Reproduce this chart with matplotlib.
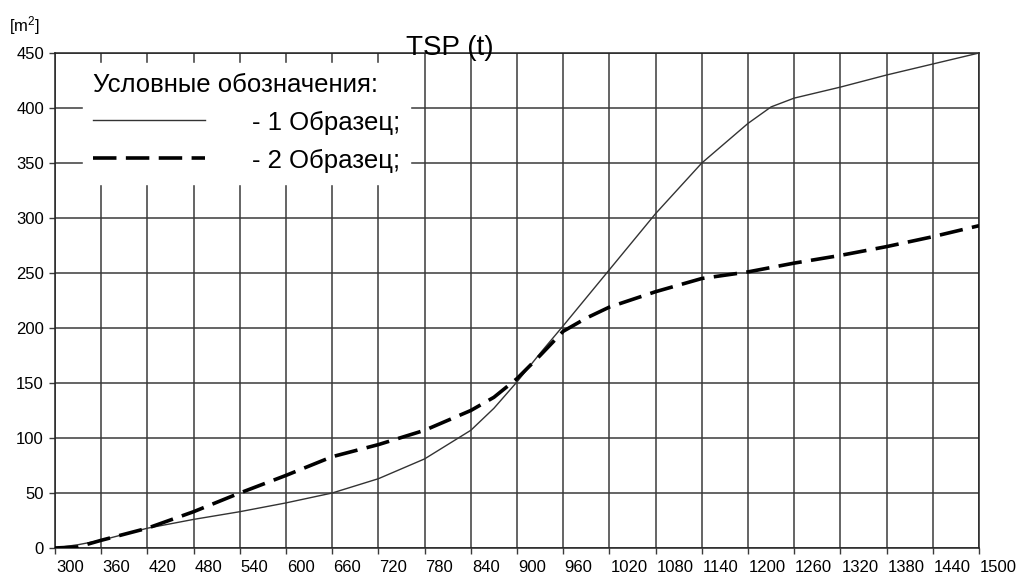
import matplotlib.pyplot as plt
from matplotlib.lines import Line2D
import matplotlib.transforms as mtransforms

plt.rcParams['font.family'] = ['Liberation Sans', 'DejaVu Sans']
plt.rcParams['mathtext.default'] = 'regular'

# sample 1 (thin solid line)
t1 = [300, 330, 360, 420, 480, 540, 600, 660, 720, 780, 840, 870, 900, 930,
      960, 1020, 1080, 1140, 1170, 1200, 1230, 1260, 1320, 1380, 1440, 1500]
s1 = [0, 3, 7, 18, 26, 33, 41, 50, 63, 81, 107, 127, 151, 177,
      202, 253, 304, 350, 368, 386, 401, 409, 419, 430, 440, 450]

# sample 2 (thick dashed line)
t2 = [300, 330, 360, 420, 480, 540, 600, 660, 720, 780, 840, 870, 900, 930,
      960, 990, 1020, 1080, 1140, 1200, 1260, 1320, 1380, 1440, 1500]
s2 = [0, 1, 7, 18, 33, 50, 66, 83, 94, 107, 125, 137, 154, 175,
      197, 209, 219, 233, 245, 251, 259, 266, 274, 283, 293]

x_ticks = list(range(300, 1501, 60))
y_ticks = list(range(0, 451, 50))

W, H = 1019, 578
fig = plt.figure(figsize=(W / 100, H / 100), dpi=100)
ax = fig.add_axes([55 / W, 30 / H, 924 / W, 495 / H])

grid_c = '#3a3a3a'
ax.set_xlim(300, 1500)
ax.set_ylim(0, 450)
ax.set_xticks(x_ticks)
ax.set_yticks(y_ticks)
ax.grid(True, color=grid_c, lw=1.1)
ax.set_axisbelow(True)
for sp in ax.spines.values():
    sp.set_color('#222222')
    sp.set_linewidth(1.1)

ax.tick_params(axis='both', direction='out', length=4, width=1, color=grid_c,
               labelsize=12)
ax.tick_params(axis='x', pad=5)
ax.tick_params(axis='y', pad=4)
offset = mtransforms.ScaledTranslation(1 / 100, 0, fig.dpi_scale_trans)
for lab in ax.get_xticklabels():
    lab.set_horizontalalignment('left')
    lab.set_transform(lab.get_transform() + offset)

dash = (0, (6.5, 2.6))
ax.plot(t1, s1, color='#333333', lw=1.0, zorder=3)
ax.plot(t2, s2, color='black', lw=2.6, linestyle=dash, zorder=4)

handles = [Line2D([], [], color='#333333', lw=1.0),
           Line2D([], [], color='black', lw=2.6, linestyle=dash)]
leg = ax.legend(handles, ['- 1 Образец;', '- 2 Образец;'],
                title='Условные обозначения:', alignment='left',
                loc='upper left', bbox_to_anchor=(0.0303, 0.98),
                fontsize=18.5, title_fontsize=18.5, frameon=True,
                facecolor='white', edgecolor='white', framealpha=1,
                fancybox=False, handlelength=4.36, handletextpad=1.8,
                handleheight=1.0, labelspacing=0.5, borderpad=0.4,
                borderaxespad=0)
leg.set_zorder(5)

ax.text(0.4275, 0.995, 'TSP (t)', transform=ax.transAxes, ha='center',
        va='baseline', fontsize=20, zorder=6)
fig.text(9 / W, 1 - 31 / H, '[m$^2$]', fontsize=12, va='baseline')

fig.savefig('out.png', dpi=100)
